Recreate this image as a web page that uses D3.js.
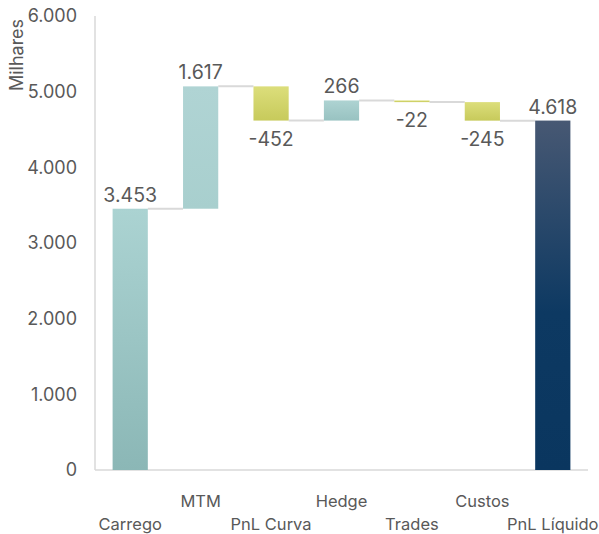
<!DOCTYPE html>
<html>
<head>
<meta charset="utf-8">
<script src="https://cdn.jsdelivr.net/npm/d3@7"></script>
<style>
  html, body { margin: 0; padding: 0; background: #fff; }
  svg { display: block; font-family: Inter, "Open Sans", sans-serif; }
</style>
</head>
<body>
<svg id="chart" width="599" height="534"></svg>
<script>
// Waterfall: PnL breakdown (values in thousands)
const categories = ["Carrego", "MTM", "PnL Curva", "Hedge", "Trades", "Custos", "PnL Líquido"];
const values = [3453, 1617, -452, 266, -22, -245, 4618];
const kinds = ["start", "delta", "delta", "delta", "delta", "delta", "total"];
const yTicks = [0, 1000, 2000, 3000, 4000, 5000, 6000];
const yAxisTitle = "Milhares";

const svg = d3.select("#chart");
const plotLeft = 95, plotRight = 588, plotTop = 16, plotBottom = 470;
const textColor = "#595959";

const x = d3.scaleBand().domain(categories).range([plotLeft, plotRight])
  .paddingInner(0.5).paddingOuter(0.25);
const y = d3.scaleLinear().domain([0, 6000]).range([plotBottom, plotTop]);

const fmt = v => {
  const s = d3.format(",")(Math.abs(v)).replace(/,/g, ".");
  return (v < 0 ? "-" : "") + s;
};

// running totals -> bar extents
let running = 0;
const bars = categories.map((c, i) => {
  let y0, y1;
  if (kinds[i] === "start" || kinds[i] === "total") {
    y0 = 0; y1 = values[i]; running = values[i];
  } else {
    y0 = running; y1 = running + values[i]; running = y1;
  }
  return { c, i, v: values[i], kind: kinds[i], y0, y1, end: y1 };
});

// gradient fills (top -> bottom)
const defs = svg.append("defs");
const grads = {
  start: [[0, "#abd3d2"], [1, "#8bb7b6"]],
  up: [[0, "#aed3d2"], [1, "#98c2c1"]],
  upSoft: [[0, "#b0d4d4"], [1, "#a8cfce"]],
  down: [[0, "#dcde7b"], [1, "#c7ca5b"]],
  total: [[0, "#475873"], [0.55, "#0d3962"], [1, "#0a365f"]]
};
Object.entries(grads).forEach(([k, stops]) => {
  const g = defs.append("linearGradient").attr("id", "g-" + k)
    .attr("x1", 0).attr("y1", 0).attr("x2", 0).attr("y2", 1);
  stops.forEach(([o, c]) => g.append("stop").attr("offset", o).attr("stop-color", c));
});
const fillFor = d => {
  if (d.kind === "total") return "url(#g-total)";
  if (d.kind === "start") return "url(#g-start)";
  if (d.v < 0) return "url(#g-down)";
  return Math.abs(y(d.y0) - y(d.y1)) > 60 ? "url(#g-upSoft)" : "url(#g-up)";
};

// axis lines
svg.append("line").attr("x1", plotLeft).attr("x2", plotLeft).attr("y1", plotTop).attr("y2", plotBottom)
  .attr("stroke", "#d9d9d9").attr("stroke-width", 1.5);
svg.append("line").attr("x1", plotLeft).attr("x2", plotRight).attr("y1", plotBottom).attr("y2", plotBottom)
  .attr("stroke", "#d9d9d9").attr("stroke-width", 1.5);

// y tick labels
svg.append("g").selectAll("text").data(yTicks).join("text")
  .attr("x", 77).attr("y", d => y(d)).attr("dy", "0.36em")
  .attr("text-anchor", "end").attr("font-size", 18).attr("fill", textColor)
  .text(d => fmt(d));

// y axis title
svg.append("text")
  .attr("transform", `translate(23,55) rotate(-90)`)
  .attr("text-anchor", "middle").attr("font-size", 18).attr("fill", textColor)
  .text(yAxisTitle);

// connectors
svg.append("g").selectAll("line").data(bars.slice(0, -1)).join("line")
  .attr("x1", d => x(d.c) + x.bandwidth())
  .attr("x2", d => x(categories[d.i + 1]))
  .attr("y1", d => y(d.end)).attr("y2", d => y(d.end))
  .attr("stroke", "#d9d9d9").attr("stroke-width", 2);

// bars
svg.append("g").selectAll("rect").data(bars).join("rect")
  .attr("x", d => x(d.c))
  .attr("width", x.bandwidth())
  .attr("y", d => y(Math.max(d.y0, d.y1)))
  .attr("height", d => Math.abs(y(d.y0) - y(d.y1)))
  .attr("fill", fillFor);

// value labels
svg.append("g").selectAll("text").data(bars).join("text")
  .attr("x", d => x(d.c) + x.bandwidth() / 2)
  .attr("y", d => d.v < 0 ? y(Math.min(d.y0, d.y1)) + 25 : y(Math.max(d.y0, d.y1)) - 7)
  .attr("text-anchor", "middle").attr("font-size", 19.5).attr("fill", textColor)
  .text(d => fmt(d.v));

// category labels, staggered on two rows
svg.append("g").selectAll("text").data(categories).join("text")
  .attr("x", c => x(c) + x.bandwidth() / 2)
  .attr("y", (c, i) => i % 2 === 0 ? 530 : 507)
  .attr("text-anchor", "middle").attr("font-size", 16.5).attr("fill", textColor)
  .text(c => c);
</script>
</body>
</html>
